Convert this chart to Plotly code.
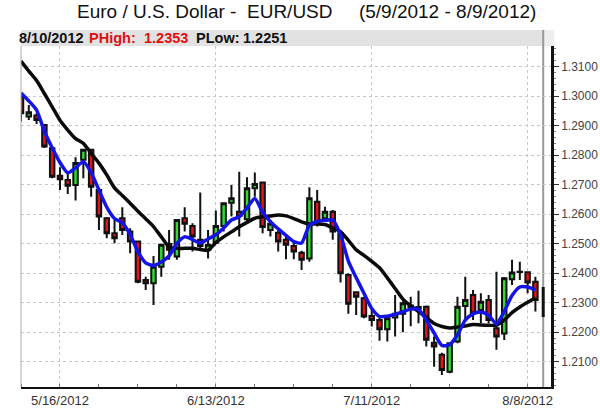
import plotly.graph_objects as go
import pandas as pd

# ---------------- data ----------------
DATES = pd.bdate_range("2012-05-09", "2012-08-09")

OPEN = [1.2998, 1.2931, 1.2934, 1.2902, 1.2823, 1.2730, 1.2716, 1.2699, 1.2784, 1.2818,
        1.2682, 1.2586, 1.2535, 1.2586, 1.2541, 1.2507, 1.2377, 1.2366, 1.2422, 1.2499,
        1.2456, 1.2586, 1.2560, 1.2513, 1.2479, 1.2503, 1.2560, 1.2639, 1.2608, 1.2583,
        1.2688, 1.2707, 1.2546, 1.2537, 1.2513, 1.2492, 1.2469, 1.2450, 1.2642, 1.2586,
        1.2608, 1.2535, 1.2394, 1.2335, 1.2315, 1.2255, 1.2241, 1.2210, 1.2250, 1.2262,
        1.2290, 1.2285, 1.2286, 1.2164, 1.2123, 1.2066, 1.2168, 1.2289, 1.2326, 1.2275,
        1.2309, 1.2213, 1.2195, 1.2379, 1.2405, 1.2403, 1.2371]
HIGH = [1.3005, 1.2970, 1.2942, 1.2906, 1.2829, 1.2759, 1.2739, 1.2793, 1.2822, 1.2822,
        1.2688, 1.2590, 1.2580, 1.2623, 1.2552, 1.2510, 1.2388, 1.2458, 1.2500, 1.2546,
        1.2582, 1.2623, 1.2569, 1.2673, 1.2546, 1.2612, 1.2640, 1.2699, 1.2744, 1.2725,
        1.2741, 1.2710, 1.2580, 1.2552, 1.2524, 1.2507, 1.2476, 1.2691, 1.2682, 1.2625,
        1.2614, 1.2541, 1.2400, 1.2337, 1.2320, 1.2275, 1.2253, 1.2250, 1.2326, 1.2305,
        1.2320, 1.2340, 1.2290, 1.2185, 1.2130, 1.2165, 1.2320, 1.2388, 1.2343, 1.2332,
        1.2326, 1.2405, 1.2387, 1.2445, 1.2439, 1.2405, 1.2388]
LOW = [1.2914, 1.2919, 1.2906, 1.2824, 1.2722, 1.2682, 1.2668, 1.2646, 1.2722, 1.2659,
       1.2546, 1.2518, 1.2501, 1.2529, 1.2467, 1.2366, 1.2343, 1.2292, 1.2388, 1.2445,
       1.2445, 1.2541, 1.2473, 1.2484, 1.2450, 1.2501, 1.2541, 1.2592, 1.2524, 1.2575,
       1.2659, 1.2535, 1.2524, 1.2473, 1.2447, 1.2447, 1.2411, 1.2439, 1.2558, 1.2580,
       1.2513, 1.2368, 1.2262, 1.2258, 1.2247, 1.2219, 1.2171, 1.2168, 1.2185, 1.2200,
       1.2220, 1.2230, 1.2151, 1.2083, 1.2055, 1.2061, 1.2162, 1.2241, 1.2241, 1.2230,
       1.2230, 1.2140, 1.2173, 1.2360, 1.2377, 1.2332, 1.2270]
CLOSE = [1.2942, 1.2945, 1.2919, 1.2829, 1.2727, 1.2718, 1.2696, 1.2773, 1.2818, 1.2693,
         1.2592, 1.2535, 1.2518, 1.2546, 1.2507, 1.2371, 1.2366, 1.2422, 1.2496, 1.2479,
         1.2580, 1.2567, 1.2524, 1.2492, 1.2496, 1.2560, 1.2637, 1.2654, 1.2594, 1.2688,
         1.2702, 1.2556, 1.2567, 1.2507, 1.2496, 1.2473, 1.2445, 1.2654, 1.2571, 1.2608,
         1.2541, 1.2400, 1.2296, 1.2320, 1.2253, 1.2241, 1.2210, 1.2247, 1.2262, 1.2298,
         1.2285, 1.2280, 1.2174, 1.2151, 1.2072, 1.2162, 1.2286, 1.2309, 1.2264, 1.2303,
         1.2241, 1.2185, 1.2383, 1.2402, 1.2404, 1.2368, 1.2309]

MA_FAST = [1.3011, 1.2984, 1.2953, 1.2881, 1.2825, 1.2775, 1.2740, 1.2757, 1.2778, 1.2741,
           1.2682, 1.2624, 1.2585, 1.2571, 1.2531, 1.2473, 1.2435, 1.2426, 1.2438, 1.2458,
           1.2501, 1.2523, 1.2514, 1.2502, 1.2516, 1.2530, 1.2553, 1.2580, 1.2591, 1.2621,
           1.2653, 1.2607, 1.2574, 1.2550, 1.2528, 1.2507, 1.2502, 1.2562, 1.2575, 1.2579,
           1.2580, 1.2530, 1.2441, 1.2385, 1.2332, 1.2280, 1.2253, 1.2254, 1.2260, 1.2269,
           1.2278, 1.2277, 1.2241, 1.2197, 1.2155, 1.2157, 1.2191, 1.2241, 1.2262, 1.2268,
           1.2257, 1.2228, 1.2270, 1.2324, 1.2353, 1.2353, 1.2343]
MA_SLOW = [1.3119, 1.3085, 1.3053, 1.3009, 1.2964, 1.2918, 1.2885, 1.2856, 1.2840, 1.2806,
           1.2773, 1.2733, 1.2689, 1.2663, 1.2637, 1.2610, 1.2584, 1.2558, 1.2523, 1.2489,
           1.2484, 1.2484, 1.2484, 1.2480, 1.2477, 1.2504, 1.2523, 1.2540, 1.2557, 1.2572,
           1.2586, 1.2591, 1.2594, 1.2597, 1.2594, 1.2585, 1.2574, 1.2567, 1.2567, 1.2565,
           1.2553, 1.2541, 1.2511, 1.2479, 1.2460, 1.2440, 1.2418, 1.2384, 1.2348, 1.2312,
           1.2289, 1.2270, 1.2250, 1.2229, 1.2219, 1.2214, 1.2217, 1.2221, 1.2226, 1.2224,
           1.2223, 1.2224, 1.2241, 1.2266, 1.2285, 1.2301, 1.2316]

TICK_DATES = ["2012-05-16", "2012-06-13", "2012-07-11", "2012-08-08"]
NEXT_DAY_LABEL = "8/10/2012"
P_HIGH = 1.2353
P_LOW = 1.2251
TITLE = "Euro / U.S. Dollar -\u00a0\u00a0EUR/USD\u00a0\u00a0\u00a0\u00a0\u00a0(5/9/2012 - 8/9/2012)"

# ---------------- figure ----------------
x = list(range(len(DATES)))
next_x = len(DATES)
date_list = [d.strftime("%Y-%m-%d") for d in DATES]
tickvals = [date_list.index(d) for d in TICK_DATES]
ticktext = [f"{pd.Timestamp(d).month}/{pd.Timestamp(d).day}/{pd.Timestamp(d).year}" for d in TICK_DATES]

FONT = "Liberation Sans, Arial, sans-serif"
L, R, T, B = 21, 551, 46, 387
PLOT_W, PLOT_H = R - L, B - T


def px_x(px):
    return (px - L) / PLOT_W


def px_y(py):
    return (B - py) / PLOT_H


fig = go.Figure()
fig.add_trace(go.Candlestick(
    x=x, open=OPEN, high=HIGH, low=LOW, close=CLOSE,
    increasing=dict(line=dict(color="#111111", width=2), fillcolor="#2fdc2f"),
    decreasing=dict(line=dict(color="#111111", width=2), fillcolor="#e0141a"),
    whiskerwidth=0, hoverinfo="skip", showlegend=False,
))
fig.add_trace(go.Scatter(x=x, y=MA_SLOW, mode="lines",
                         line=dict(color="#0a0a0a", width=3.5, shape="spline", smoothing=0.6),
                         hoverinfo="skip", showlegend=False))
fig.add_trace(go.Scatter(x=x, y=MA_FAST, mode="lines",
                         line=dict(color="#1414e6", width=3.5, shape="spline", smoothing=0.6),
                         hoverinfo="skip", showlegend=False))
# projected high / low bar for next day
fig.add_trace(go.Scatter(x=[next_x, next_x], y=[P_LOW, P_HIGH], mode="lines",
                         line=dict(color="#111111", width=3),
                         hoverinfo="skip", showlegend=False))

header_parts = [
    (NEXT_DAY_LABEL, 18, "#111111"),
    ("PHigh:", 88, "#e01010"),
    (f"{P_HIGH:.4f}", 143, "#e01010"),
    ("PLow:", 195, "#111111"),
    (f"{P_LOW:.4f}", 242, "#111111"),
]
header_annotations = [
    dict(text=f"<b>{txt}</b>", xref="paper", yref="paper", x=px_x(xp), y=px_y(37.5),
         xanchor="left", yanchor="middle", showarrow=False, borderpad=0,
         font=dict(family=FONT, size=14.5, color=col))
    for txt, xp, col in header_parts
]

fig.update_layout(
    width=600, height=408,
    margin=dict(l=L, r=600 - R, t=T, b=408 - B, autoexpand=False),
    paper_bgcolor="white", plot_bgcolor="white",
    font=dict(family=FONT, size=12, color="#333333"),
    boxgap=0.18,
    showlegend=False,
    xaxis=dict(
        range=[0, 68], rangeslider=dict(visible=False), automargin=False,
        tickvals=tickvals, ticktext=ticktext, ticks="",
        showgrid=True, gridcolor="#c8c8c8", griddash="dot", gridwidth=1,
        showline=True, linecolor="#111111", linewidth=2,
        zeroline=False, tickfont=dict(size=13, color="#333333"),
        minor=dict(ticks="inside", ticklen=3, tickcolor="#777777", dtick=5, tick0=0, showgrid=False),
    ),
    yaxis=dict(
        range=[1.2014, 1.3170], side="right", automargin=False,
        dtick=0.01, tick0=1.21, tickformat=".4f",
        ticks="outside", ticklen=5, tickcolor="#333333",
        showgrid=True, gridcolor="#c8c8c8", griddash="dot", gridwidth=1,
        showline=True, linecolor="#111111", linewidth=2.5,
        zeroline=False, tickfont=dict(size=12, color="#444444"),
        minor=dict(ticks="outside", ticklen=2, tickcolor="#888888", dtick=0.002, showgrid=False),
    ),
    shapes=[
        dict(type="rect", xref="paper", yref="paper", x0=0, x1=0.985, y0=1.0, y1=px_y(30),
             fillcolor="#e2e2e2", line=dict(width=0), layer="below"),
        dict(type="rect", xref="paper", yref="paper", x0=0.985, x1=1.006, y0=1.0, y1=px_y(30),
             fillcolor="#eeeeee", line=dict(width=0), layer="below"),
        dict(type="line", xref="paper", yref="paper", x0=0, x1=0, y0=0, y1=1.0,
             line=dict(color="#aaaaaa", width=1)),
        dict(type="line", xref="x", yref="paper", x0=next_x, x1=next_x, y0=0, y1=px_y(30),
             line=dict(color="#999999", width=2), layer="below"),
    ],
    annotations=[
        dict(text=TITLE, xref="paper", yref="paper", x=px_x(306), y=px_y(11),
             xanchor="center", yanchor="middle", showarrow=False,
             font=dict(family=FONT, size=19, color="#111111")),
    ] + header_annotations,
)

fig.write_html("out.html",
               config={"displayModeBar": False},
               post_script="document.body.style.margin='0px';document.body.style.padding='0px';")
